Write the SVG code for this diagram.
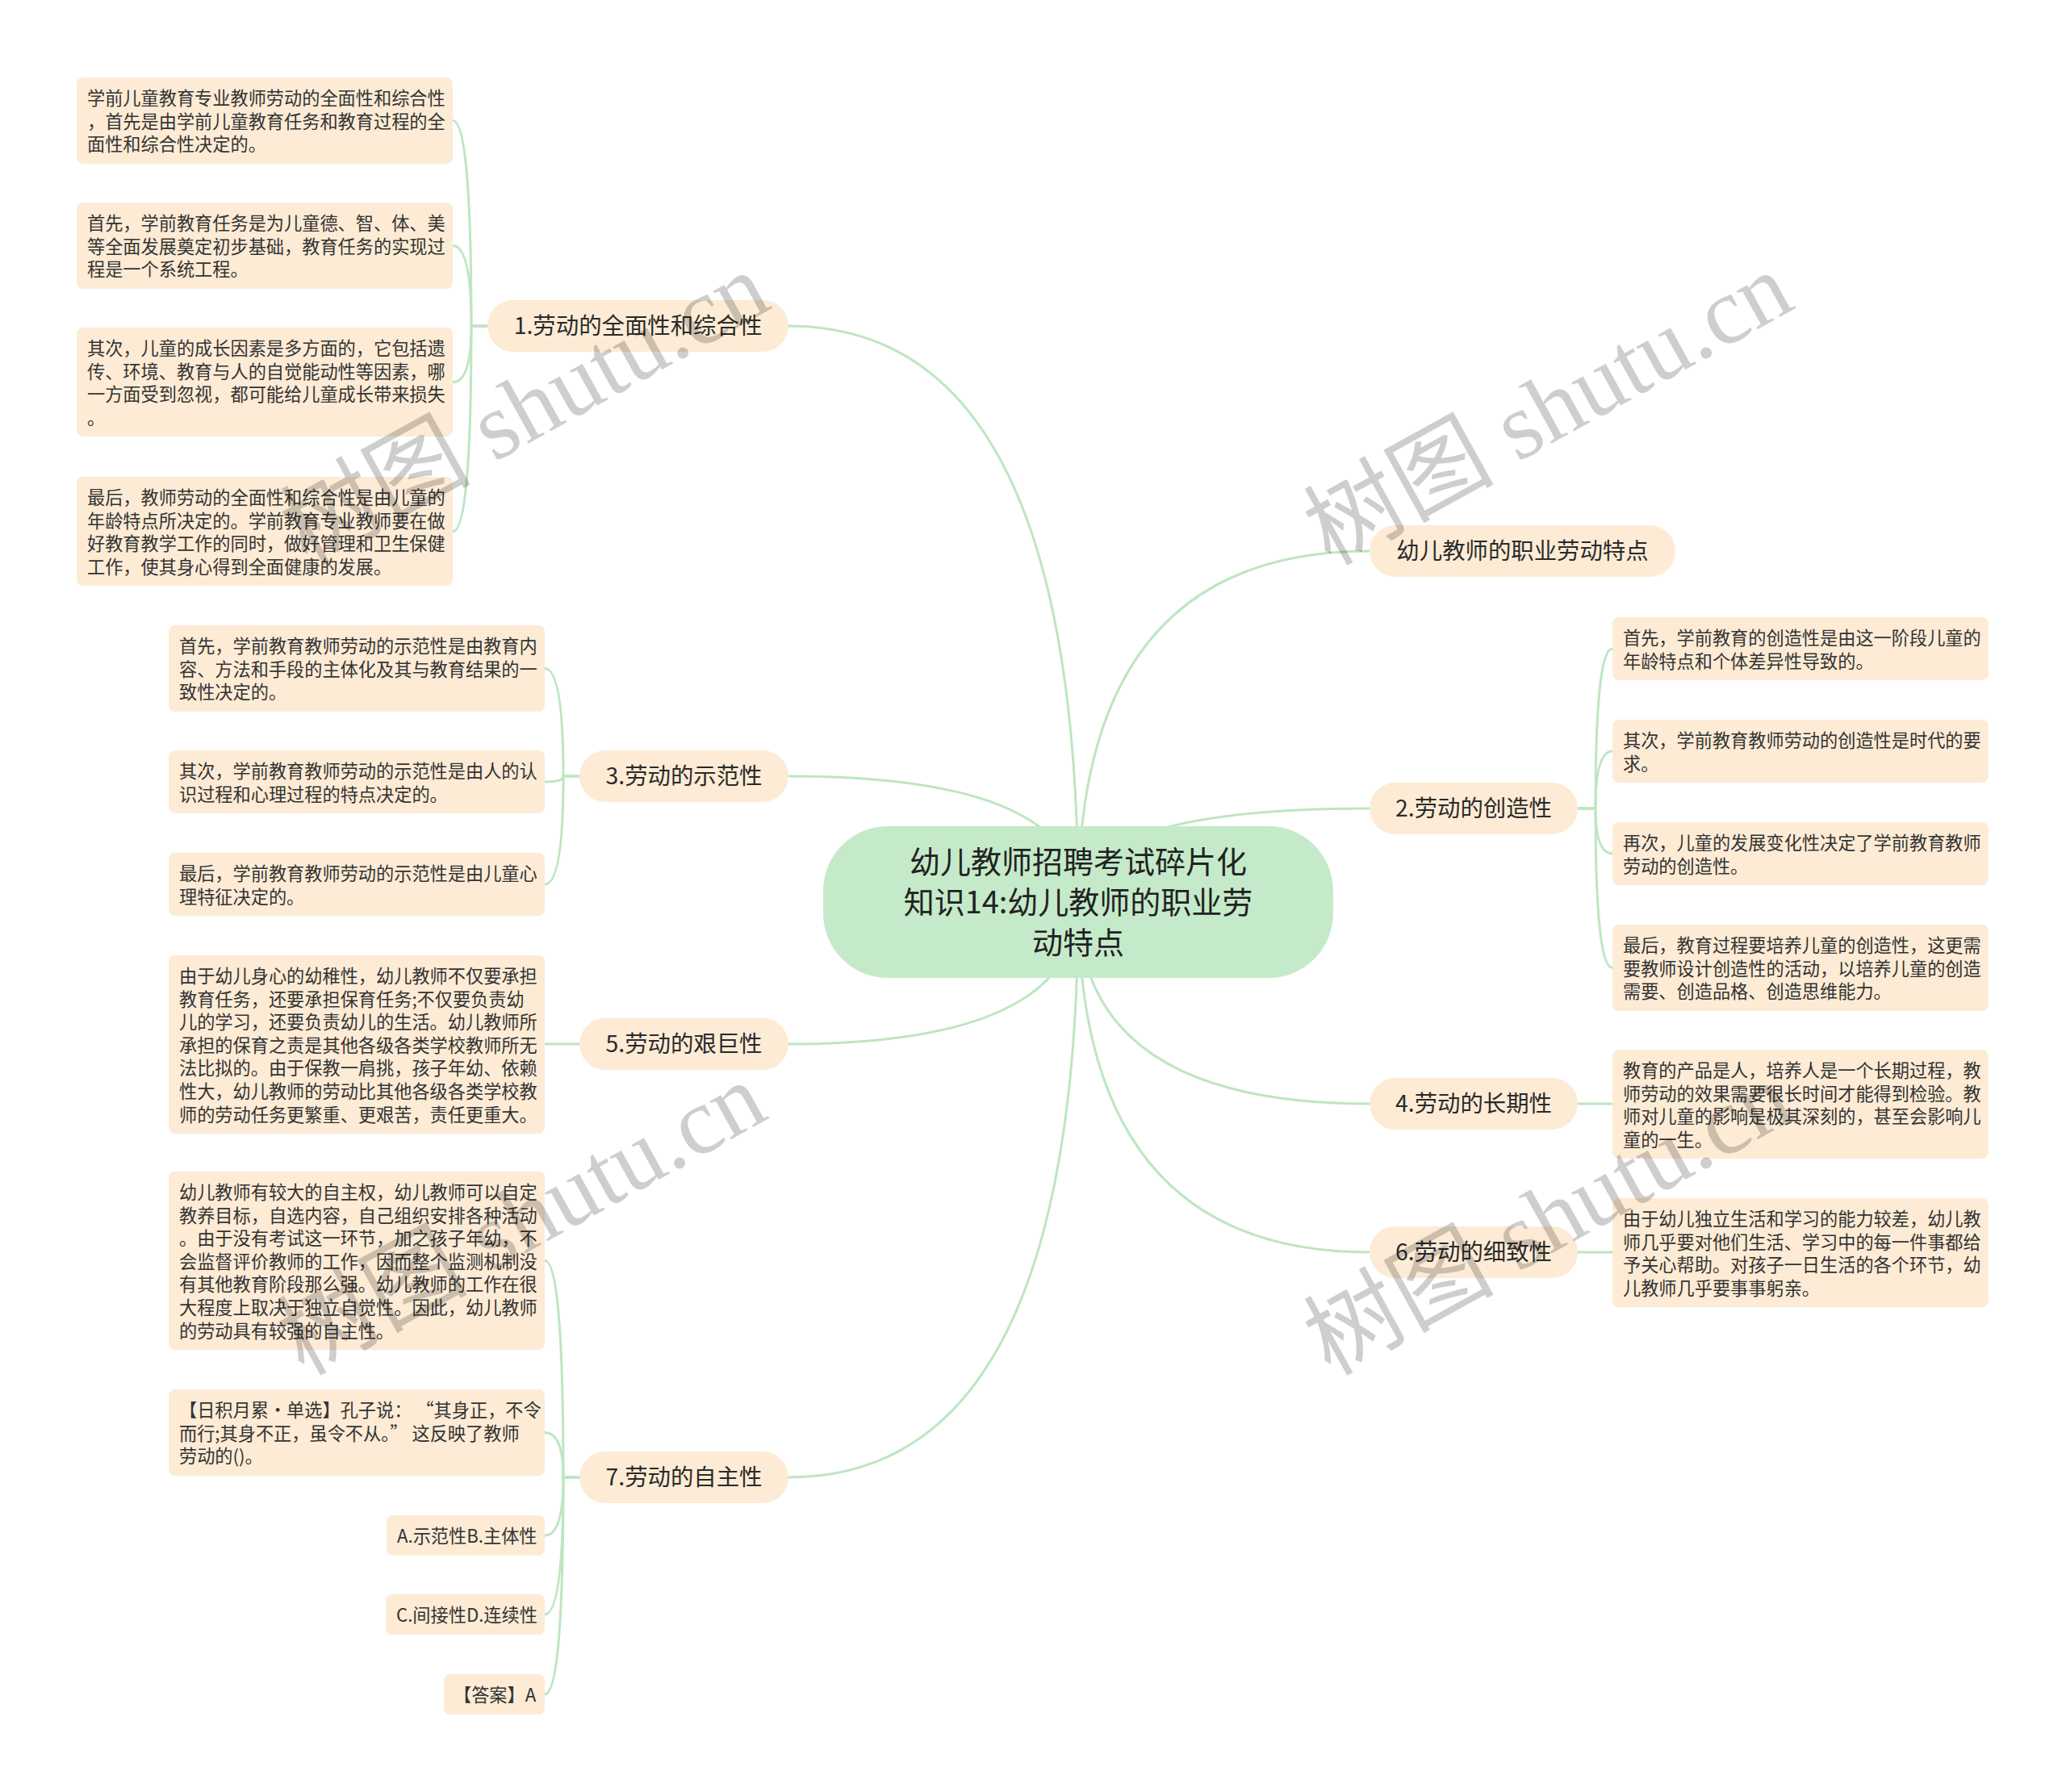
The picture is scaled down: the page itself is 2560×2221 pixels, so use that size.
<svg xmlns="http://www.w3.org/2000/svg" width="2560" height="2221" viewBox="0 0 2560 2221">
<style>
.bg{fill:#ffffff}
.conn path{fill:none;stroke:#bde6c1;stroke-width:3}
.leaf rect{fill:#fdebd5}
.leaf text{font-family:"Noto Sans CJK SC","Microsoft YaHei",sans-serif;font-size:22.2px;fill:#333333}
.branch rect{fill:#fdebd5}
.branch text{font-family:"Noto Sans CJK SC","Microsoft YaHei",sans-serif;font-size:28.4px;fill:#2a2a2a;text-anchor:middle}
.root rect{fill:#c5eac9}
.root text{font-family:"Noto Sans CJK SC","Microsoft YaHei",sans-serif;font-size:38px;fill:#222222;text-anchor:middle}
.wm text{font-family:"Liberation Serif","Noto Sans CJK SC",serif;font-size:118px;fill:#000000;opacity:0.19}
</style>
<rect class="bg" x="0" y="0" width="2560" height="2221"/>

<g id="connectors" class="conn">
  <path d="M1336 1118 Q1336 404 977 404"/>
  <path d="M1336 1118 Q1336 962 977 962"/>
  <path d="M1336 1118 Q1336 1294 977 1294"/>
  <path d="M1336 1118 Q1336 1831 977 1831"/>
  <path d="M1336 1118 Q1336 683 1697 683"/>
  <path d="M1336 1118 Q1336 1002 1697 1002"/>
  <path d="M1336 1118 Q1336 1368 1697 1368"/>
  <path d="M1336 1118 Q1336 1552 1697 1552"/>
  <path d="M604 404 L584 404 Q584 149.5 561 149.5"/>
  <path d="M604 404 L584 404 Q584 304.5 561 304.5"/>
  <path d="M604 404 L584 404 Q584 473.7 561 473.7"/>
  <path d="M604 404 L584 404 Q584 658.7 561 658.7"/>
  <path d="M718 962 L698 962 Q698 828.4 675 828.4"/>
  <path d="M718 962 L698 962 Q698 969 675 969"/>
  <path d="M718 962 L698 962 Q698 1096 675 1096"/>
  <path d="M718 1294 L675 1294"/>
  <path d="M718 1831 L698 1831 Q698 1562.5 675 1562.5"/>
  <path d="M718 1831 L698 1831 Q698 1775.5 675 1775.5"/>
  <path d="M718 1831 L698 1831 Q698 1903 675 1903"/>
  <path d="M718 1831 L698 1831 Q698 2001 675 2001"/>
  <path d="M718 1831 L698 1831 Q698 2100 675 2100"/>
  <path d="M1955 1002 L1977 1002 Q1977 804 1998 804"/>
  <path d="M1955 1002 L1977 1002 Q1977 931 1998 931"/>
  <path d="M1955 1002 L1977 1002 Q1977 1058 1998 1058"/>
  <path d="M1955 1002 L1977 1002 Q1977 1199.4 1998 1199.4"/>
  <path d="M1955 1368 L1998 1368"/>
  <path d="M1955 1552 L1998 1552"/>
</g>

<g id="root" class="root">
  <rect x="1020" y="1024" width="632" height="188" rx="80" ry="80"/>
  <text x="1336" y="1082">幼儿教师招聘考试碎片化</text>
  <text x="1336" y="1132">知识14:幼儿教师的职业劳</text>
  <text x="1336" y="1182">动特点</text>
</g>

<g id="branch-r0" class="branch">
  <rect x="1697" y="651" width="379" height="64" rx="32"/>
  <text x="1886.5" y="693">幼儿教师的职业劳动特点</text>
</g>
<g id="branch-2" class="branch">
  <rect x="1697" y="970" width="258" height="64" rx="32"/>
  <text x="1826" y="1012">2.劳动的创造性</text>
</g>
<g id="branch-4" class="branch">
  <rect x="1697" y="1336" width="258" height="64" rx="32"/>
  <text x="1826" y="1378">4.劳动的长期性</text>
</g>
<g id="branch-6" class="branch">
  <rect x="1697" y="1520" width="258" height="64" rx="32"/>
  <text x="1826" y="1562">6.劳动的细致性</text>
</g>
<g id="branch-1" class="branch">
  <rect x="604" y="372" width="373" height="64" rx="32"/>
  <text x="790.5" y="414">1.劳动的全面性和综合性</text>
</g>
<g id="branch-3" class="branch">
  <rect x="718" y="930" width="259" height="64" rx="32"/>
  <text x="847.5" y="972">3.劳动的示范性</text>
</g>
<g id="branch-5" class="branch">
  <rect x="718" y="1262" width="259" height="64" rx="32"/>
  <text x="847.5" y="1304">5.劳动的艰巨性</text>
</g>
<g id="branch-7" class="branch">
  <rect x="718" y="1799" width="259" height="64" rx="32"/>
  <text x="847.5" y="1841">7.劳动的自主性</text>
</g>

<g id="leaf-1a" class="leaf">
  <rect x="95" y="96" width="466" height="107" rx="8"/>
  <text><tspan x="108" y="130">学前儿童教育专业教师劳动的全面性和综合性</tspan><tspan x="108" y="158.6">，首先是由学前儿童教育任务和教育过程的全</tspan><tspan x="108" y="187.2">面性和综合性决定的。</tspan></text>
</g>
<g id="leaf-1b" class="leaf">
  <rect x="95" y="251" width="466" height="107" rx="8"/>
  <text><tspan x="108" y="285">首先，学前教育任务是为儿童德、智、体、美</tspan><tspan x="108" y="313.6">等全面发展奠定初步基础，教育任务的实现过</tspan><tspan x="108" y="342.2">程是一个系统工程。</tspan></text>
</g>
<g id="leaf-1c" class="leaf">
  <rect x="95" y="406" width="466" height="135" rx="8"/>
  <text><tspan x="108" y="440">其次，儿童的成长因素是多方面的，它包括遗</tspan><tspan x="108" y="468.6">传、环境、教育与人的自觉能动性等因素，哪</tspan><tspan x="108" y="497.2">一方面受到忽视，都可能给儿童成长带来损失</tspan><tspan x="108" y="525.8">。</tspan></text>
</g>
<g id="leaf-1d" class="leaf">
  <rect x="95" y="591" width="466" height="135" rx="8"/>
  <text><tspan x="108" y="625">最后，教师劳动的全面性和综合性是由儿童的</tspan><tspan x="108" y="653.6">年龄特点所决定的。学前教育专业教师要在做</tspan><tspan x="108" y="682.2">好教育教学工作的同时，做好管理和卫生保健</tspan><tspan x="108" y="710.8">工作，使其身心得到全面健康的发展。</tspan></text>
</g>

<g id="leaf-3a" class="leaf">
  <rect x="209" y="775" width="466" height="107" rx="8"/>
  <text><tspan x="222" y="809">首先，学前教育教师劳动的示范性是由教育内</tspan><tspan x="222" y="837.6">容、方法和手段的主体化及其与教育结果的一</tspan><tspan x="222" y="866.2">致性决定的。</tspan></text>
</g>
<g id="leaf-3b" class="leaf">
  <rect x="209" y="930" width="466" height="78" rx="8"/>
  <text><tspan x="222" y="964">其次，学前教育教师劳动的示范性是由人的认</tspan><tspan x="222" y="992.6">识过程和心理过程的特点决定的。</tspan></text>
</g>
<g id="leaf-3c" class="leaf">
  <rect x="209" y="1057" width="466" height="78" rx="8"/>
  <text><tspan x="222" y="1091">最后，学前教育教师劳动的示范性是由儿童心</tspan><tspan x="222" y="1119.6">理特征决定的。</tspan></text>
</g>

<g id="leaf-5" class="leaf">
  <rect x="209" y="1184" width="466" height="221" rx="8"/>
  <text><tspan x="222" y="1218">由于幼儿身心的幼稚性，幼儿教师不仅要承担</tspan><tspan x="222" y="1246.6">教育任务，还要承担保育任务;不仅要负责幼</tspan><tspan x="222" y="1275.2">儿的学习，还要负责幼儿的生活。幼儿教师所</tspan><tspan x="222" y="1303.8">承担的保育之责是其他各级各类学校教师所无</tspan><tspan x="222" y="1332.4">法比拟的。由于保教一肩挑，孩子年幼、依赖</tspan><tspan x="222" y="1361">性大，幼儿教师的劳动比其他各级各类学校教</tspan><tspan x="222" y="1389.6">师的劳动任务更繁重、更艰苦，责任更重大。</tspan></text>
</g>

<g id="leaf-7a" class="leaf">
  <rect x="209" y="1452" width="466" height="221" rx="8"/>
  <text><tspan x="222" y="1486">幼儿教师有较大的自主权，幼儿教师可以自定</tspan><tspan x="222" y="1514.6">教养目标，自选内容，自己组织安排各种活动</tspan><tspan x="222" y="1543.2">。由于没有考试这一环节，加之孩子年幼，不</tspan><tspan x="222" y="1571.8">会监督评价教师的工作，因而整个监测机制没</tspan><tspan x="222" y="1600.4">有其他教育阶段那么强。幼儿教师的工作在很</tspan><tspan x="222" y="1629">大程度上取决于独立自觉性。因此，幼儿教师</tspan><tspan x="222" y="1657.6">的劳动具有较强的自主性。</tspan></text>
</g>
<g id="leaf-7b" class="leaf">
  <rect x="209" y="1722" width="466" height="107" rx="8"/>
  <text><tspan x="222" y="1756">【日积月累·单选】孔子说： “其身正，不令</tspan><tspan x="222" y="1784.6">而行;其身不正，虽令不从。” 这反映了教师</tspan><tspan x="222" y="1813.2">劳动的()。</tspan></text>
</g>
<g id="leaf-7c" class="leaf">
  <rect x="479" y="1878" width="196" height="50" rx="8"/>
  <text x="492" y="1912">A.示范性B.主体性</text>
</g>
<g id="leaf-7d" class="leaf">
  <rect x="478" y="1976" width="197" height="50" rx="8"/>
  <text x="491" y="2010">C.间接性D.连续性</text>
</g>
<g id="leaf-7e" class="leaf">
  <rect x="550" y="2075" width="125" height="50" rx="8"/>
  <text x="562" y="2109">【答案】A</text>
</g>

<g id="leaf-2a" class="leaf">
  <rect x="1998" y="765" width="466" height="78" rx="8"/>
  <text><tspan x="2011" y="799">首先，学前教育的创造性是由这一阶段儿童的</tspan><tspan x="2011" y="827.6">年龄特点和个体差异性导致的。</tspan></text>
</g>
<g id="leaf-2b" class="leaf">
  <rect x="1998" y="892" width="466" height="78" rx="8"/>
  <text><tspan x="2011" y="926">其次，学前教育教师劳动的创造性是时代的要</tspan><tspan x="2011" y="954.6">求。</tspan></text>
</g>
<g id="leaf-2c" class="leaf">
  <rect x="1998" y="1019" width="466" height="78" rx="8"/>
  <text><tspan x="2011" y="1053">再次，儿童的发展变化性决定了学前教育教师</tspan><tspan x="2011" y="1081.6">劳动的创造性。</tspan></text>
</g>
<g id="leaf-2d" class="leaf">
  <rect x="1998" y="1146" width="466" height="107" rx="8"/>
  <text><tspan x="2011" y="1180">最后，教育过程要培养儿童的创造性，这更需</tspan><tspan x="2011" y="1208.6">要教师设计创造性的活动，以培养儿童的创造</tspan><tspan x="2011" y="1237.2">需要、创造品格、创造思维能力。</tspan></text>
</g>
<g id="leaf-4a" class="leaf">
  <rect x="1998" y="1301" width="466" height="135" rx="8"/>
  <text><tspan x="2011" y="1335">教育的产品是人，培养人是一个长期过程，教</tspan><tspan x="2011" y="1363.6">师劳动的效果需要很长时间才能得到检验。教</tspan><tspan x="2011" y="1392.2">师对儿童的影响是极其深刻的，甚至会影响儿</tspan><tspan x="2011" y="1420.8">童的一生。</tspan></text>
</g>
<g id="leaf-6a" class="leaf">
  <rect x="1998" y="1485" width="466" height="135" rx="8"/>
  <text><tspan x="2011" y="1519">由于幼儿独立生活和学习的能力较差，幼儿教</tspan><tspan x="2011" y="1547.6">师几乎要对他们生活、学习中的每一件事都给</tspan><tspan x="2011" y="1576.2">予关心帮助。对孩子一日生活的各个环节，幼</tspan><tspan x="2011" y="1604.8">儿教师几乎要事事躬亲。</tspan></text>
</g>

<g id="watermark" class="wm">
  <text transform="translate(380 702) rotate(-29)">树图 shutu.cn</text>
  <text transform="translate(1648 702) rotate(-29)">树图 shutu.cn</text>
  <text transform="translate(376 1706) rotate(-29)">树图 shutu.cn</text>
  <text transform="translate(1648 1706) rotate(-29)">树图 shutu.cn</text>
</g>
</svg>
